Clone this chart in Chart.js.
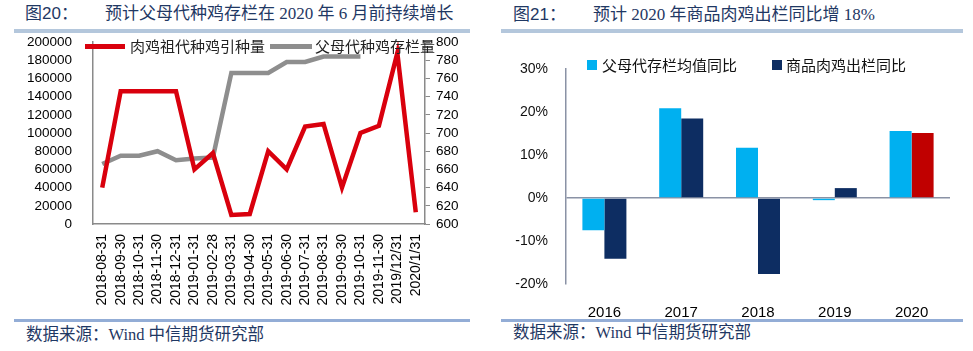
<!DOCTYPE html>
<html>
<head>
<meta charset="utf-8">
<script src="https://cdn.jsdelivr.net/npm/chart.js@4"></script>
<style>
  html, body { margin: 0; padding: 0; background: #fff; width: 973px; height: 351px; overflow: hidden; }
  .abs { position: absolute; white-space: nowrap; }
  .title { font-family: "Noto Sans CJK SC", "Liberation Sans", sans-serif; font-size: 17px; color: #1F3864; line-height: 20px; }
  .title.num { font-family: "Liberation Sans", "Noto Sans CJK SC", sans-serif; }
  .title.txt { font-family: "Liberation Serif", "Noto Sans CJK SC", serif; }
  .bar-top { background: #B4C7DC; height: 4px; }
  .bar-bot { background: #93ADD6; height: 3px; }
  .foot { font-family: "Liberation Serif", "Noto Sans CJK SC", serif; font-size: 16.5px; color: #1F3864; line-height: 20px; }
  .leg1 { font-family: "Noto Sans CJK SC", serif; font-size: 15px; color: #222; line-height: 18px; }
  .leg2 { font-family: "Noto Sans CJK SC", sans-serif; font-size: 15px; color: #111; line-height: 18px; }
  canvas { position: absolute; }
</style>
</head>
<body>
<!-- left panel -->
<div class="abs title num" style="left:25px;top:4px;">图20：</div>
<div class="abs title txt" style="left:105px;top:4px;">预计父母代种鸡存栏在 2020 年 6 月前持续增长</div>
<div class="abs bar-top" style="left:14px;top:29px;width:456px;"></div>
<canvas id="c1" width="480" height="318" style="left:0;top:0;"></canvas>
<div class="abs" style="left:85px;top:44px;width:40px;height:5px;background:#D9000D;"></div>
<div class="abs leg1" style="left:130px;top:37px;">肉鸡祖代种鸡引种量</div>
<div class="abs" style="left:270px;top:44px;width:42px;height:5px;background:#8E8E8E;"></div>
<div class="abs leg1" style="left:315px;top:37px;">父母代种鸡存栏量</div>
<div class="abs bar-bot" style="left:14px;top:319px;width:456px;"></div>
<div class="abs foot" style="left:26px;top:325px;">数据来源：Wind 中信期货研究部</div>

<!-- right panel -->
<div class="abs title num" style="left:513px;top:5px;">图21：</div>
<div class="abs title txt" style="left:593px;top:5px;">预计 2020 年商品肉鸡出栏同比增 18%</div>
<div class="abs bar-top" style="left:501px;top:29px;width:462px;"></div>
<canvas id="c2" width="493" height="318" style="left:480px;top:0;"></canvas>
<div class="abs" style="left:587px;top:60px;width:10px;height:10px;background:#00B0F0;"></div>
<div class="abs leg2" style="left:602px;top:56px;">父母代存栏均值同比</div>
<div class="abs" style="left:772px;top:60px;width:10px;height:10px;background:#0D2D62;"></div>
<div class="abs leg2" style="left:786px;top:56px;">商品肉鸡出栏同比</div>
<div class="abs bar-bot" style="left:501px;top:319px;width:462px;"></div>
<div class="abs foot" style="left:513px;top:323px;">数据来源：Wind 中信期货研究部</div>

<script>
// ---- Figure 20 data ----
const months = ["2018-08-31","2018-09-30","2018-10-31","2018-11-30","2018-12-31","2019-01-31","2019-02-28","2019-03-31","2019-04-30","2019-05-31","2019-06-30","2019-07-31","2019-08-31","2019-09-30","2019-10-31","2019-11-30","2019/12/31","2020/1/31"];
const gpImports = [40000,146000,146000,146000,146000,60000,78000,10000,11000,80000,60000,107000,110000,40000,100000,108000,188000,13000];
const ppStock = [666,675,675,680,670,672,673,766,766,766,778,778,784,784,784,null,null,null];
const leftTicks = { min: 0, max: 200000, step: 20000 };
const rightTicks = { min: 600, max: 800, step: 20 };

// ---- Figure 21 data ----
const years = ["2016","2017","2018","2019","2020"];
const ppYoY = [-7.5, 20.9, 11.7, -0.5, 15.6];
const broilerYoY = [-14.1, 18.5, -17.7, 2.3, 15.1];
const pctTicks = { min: -20, max: 30, step: 10 };

const axisGray = '#8A8A8A';
const tickFont = { family: 'Liberation Sans, Arial, sans-serif', size: 13.5 };

new Chart(document.getElementById('c1'), {
  type: 'line',
  data: {
    labels: months,
    datasets: [
      { label: '肉鸡祖代种鸡引种量', data: gpImports, yAxisID: 'y', borderColor: '#D9000D', borderWidth: 4.5, pointRadius: 0, tension: 0, order: 1 },
      { label: '父母代种鸡存栏量', data: ppStock, yAxisID: 'y1', borderColor: '#8E8E8E', borderWidth: 4.5, pointRadius: 0, tension: 0, order: 2 }
    ]
  },
  options: {
    responsive: false, animation: false, devicePixelRatio: 1,
    layout: { padding: { top: 42, left: 0, right: 0, bottom: 0 } },
    plugins: { legend: { display: false }, tooltip: { enabled: false } },
    scales: {
      x: {
        offset: true,
        grid: { display: true, drawOnChartArea: false, drawTicks: false },
        border: { display: true, color: axisGray, width: 1.5 },
        ticks: { minRotation: 90, maxRotation: 90, autoSkip: false, padding: 10, color: '#000', font: { family: 'Liberation Sans, Arial, sans-serif', size: 14 } },
        afterFit: a => { a.height = 94; }
      },
      y: {
        position: 'left', min: leftTicks.min, max: leftTicks.max,
        ticks: { stepSize: leftTicks.step, autoSkip: false, padding: 21, color: '#000', font: tickFont, callback: v => String(v) },
        grid: { drawOnChartArea: false, drawTicks: false },
        border: { display: true, color: axisGray, width: 1.5 },
        afterFit: a => { a.width = 93; }
      },
      y1: {
        position: 'right', min: rightTicks.min, max: rightTicks.max,
        ticks: { stepSize: rightTicks.step, autoSkip: false, padding: 6, color: '#000', font: tickFont, callback: v => String(v) },
        grid: { drawOnChartArea: false, drawTicks: true, tickLength: 5, color: axisGray },
        border: { display: true, color: axisGray, width: 1.5 },
        afterFit: a => { a.width = 55; }
      }
    }
  }
});

const zeroLine = '#8A92A5';
new Chart(document.getElementById('c2'), {
  type: 'bar',
  data: {
    labels: years,
    datasets: [
      { label: '父母代存栏均值同比', data: ppYoY, backgroundColor: '#00B0F0', barPercentage: 1, categoryPercentage: 0.573 },
      { label: '商品肉鸡出栏同比', data: broilerYoY, backgroundColor: years.map((y, i) => i === years.length - 1 ? '#C00000' : '#0D2D62'), barPercentage: 1, categoryPercentage: 0.573 }
    ]
  },
  options: {
    responsive: false, animation: false, devicePixelRatio: 1,
    layout: { padding: { top: 69, left: 0, right: 23, bottom: 0 } },
    plugins: { legend: { display: false }, tooltip: { enabled: false } },
    scales: {
      x: {
        grid: { display: false },
        border: { display: false },
        ticks: { padding: 12, color: '#000', font: { family: 'Liberation Sans, Arial, sans-serif', size: 15 } },
        afterFit: a => { a.height = 34; }
      },
      y: {
        min: pctTicks.min, max: pctTicks.max,
        ticks: { stepSize: pctTicks.step, autoSkip: false, padding: 18, color: '#111', font: { family: 'Liberation Sans, Arial, sans-serif', size: 14 }, callback: v => v + '%' },
        grid: { drawTicks: false, lineWidth: 1.5, color: c => (c.tick && c.tick.value === 0) ? zeroLine : 'rgba(0,0,0,0)' },
        border: { display: true, color: zeroLine, width: 1.5 },
        afterFit: a => { a.width = 86; }
      }
    }
  }
});
</script>
</body>
</html>
